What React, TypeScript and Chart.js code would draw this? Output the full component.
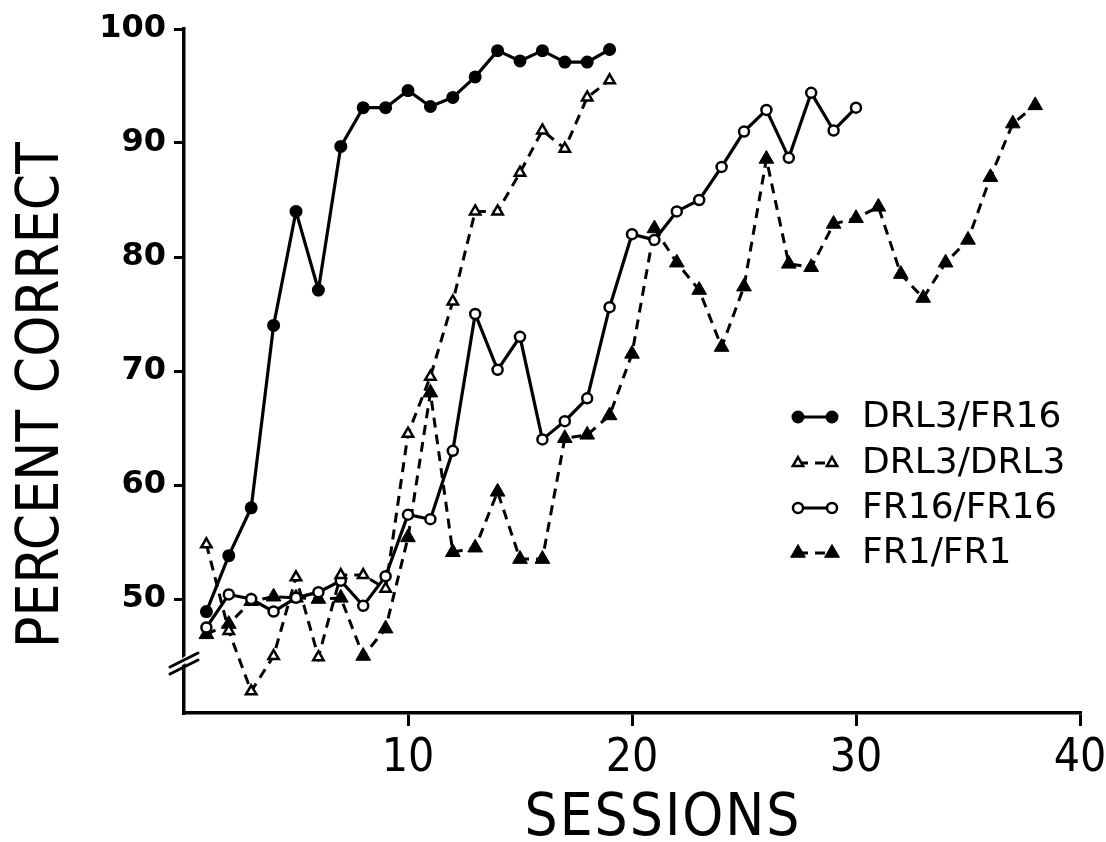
import { useEffect, useRef } from 'react';
import { Chart, registerables } from 'chart.js';

Chart.register(...registerables);

const sessions = [
  1, 2, 3, 4, 5, 6, 7, 8, 9, 10, 11, 12, 13, 14, 15, 16, 17, 18, 19, 20,
  21, 22, 23, 24, 25, 26, 27, 28, 29, 30, 31, 32, 33, 34, 35, 36, 37, 38,
];

const drl3Fr16 = [
  48.9, 53.8, 58, 74, 84, 77.1, 89.7, 93.1, 93.1, 94.6, 93.2, 94, 95.8, 98.1,
  97.2, 98.1, 97.1, 97.1, 98.2,
];

const drl3Drl3 = [
  54.8, 47.2, 41.9, 45, 51.9, 44.9, 52.1, 52.1, 50.9, 64.5, 69.5, 76.1, 84, 84,
  87.4, 91.1, 89.5, 94, 95.5,
];

const fr16Fr16 = [
  47.5, 50.4, 50, 48.9, 50.1, 50.6, 51.6, 49.4, 52, 57.4, 57, 63, 75, 70.1, 73,
  64, 65.6, 67.6, 75.6, 82, 81.5, 84, 85, 87.9, 91, 92.9, 88.7, 94.4, 91.1, 93.1,
];

const fr1Fr1 = [
  46.9, 47.8, 49.8, 50.2, 50.1, 50, 50.1, 45, 47.4, 55.4, 68.1, 54.1, 54.5,
  59.4, 53.5, 53.5, 64.1, 64.4, 66.1, 71.5, 82.5, 79.5, 77.1, 72.1, 77.4, 88.6,
  79.4, 79.1, 82.9, 83.4, 84.4, 78.5, 76.4, 79.5, 81.5, 87, 91.7, 93.3,
];

const seriesLabels = ['DRL3/FR16', 'DRL3/DRL3', 'FR16/FR16', 'FR1/FR1'];
const xTitle = 'SESSIONS';
const yTitle = 'PERCENT CORRECT';
const xMin = 0;
const xMax = 40;
const yMin = 40;
const yMax = 100;
const breakValue = 44.3;

function toPoints(values: number[]) {
  return values.map((v, i) => ({ x: sessions[i], y: v }));
}

function drawMarker(
  ctx: CanvasRenderingContext2D,
  style: string,
  x: number,
  y: number,
  r: number,
  fill: string,
  stroke: string,
  bw: number
) {
  ctx.save();
  ctx.beginPath();
  if (style === 'triangle') {
    let rad = 0;
    ctx.moveTo(x + Math.sin(rad) * r, y - Math.cos(rad) * r);
    rad += (2 * Math.PI) / 3;
    ctx.lineTo(x + Math.sin(rad) * r, y - Math.cos(rad) * r);
    rad += (2 * Math.PI) / 3;
    ctx.lineTo(x + Math.sin(rad) * r, y - Math.cos(rad) * r);
    ctx.closePath();
  } else {
    ctx.arc(x, y, r, 0, Math.PI * 2);
  }
  ctx.fillStyle = fill;
  ctx.fill();
  if (bw > 0) {
    ctx.lineWidth = bw;
    ctx.strokeStyle = stroke;
    ctx.setLineDash([]);
    ctx.stroke();
  }
  ctx.restore();
}

const decorPlugin = {
  id: 'decor',
  afterDraw(chart: any) {
    const ctx: CanvasRenderingContext2D = chart.ctx;
    const area = chart.chartArea;
    const yScale = chart.scales.y;

    // axis break marks
    const by = yScale.getPixelForValue(breakValue);
    const ax = area.left;
    ctx.save();
    ctx.fillStyle = '#fff';
    ctx.beginPath();
    ctx.moveTo(ax - 3, by + 2);
    ctx.lineTo(ax + 3, by - 2);
    ctx.lineTo(ax + 3, by - 9);
    ctx.lineTo(ax - 3, by - 5);
    ctx.closePath();
    ctx.fill();
    ctx.strokeStyle = '#000';
    ctx.lineWidth = 3;
    ctx.lineCap = 'round';
    ctx.beginPath();
    ctx.moveTo(ax - 14, by + 10);
    ctx.lineTo(ax + 14, by - 4);
    ctx.moveTo(ax - 14, by + 3);
    ctx.lineTo(ax + 14, by - 11);
    ctx.stroke();
    ctx.restore();

    // axis titles
    ctx.save();
    ctx.fillStyle = '#000';
    ctx.font = '58px "DejaVu Sans Condensed", "DejaVu Sans", sans-serif';
    ctx.textAlign = 'center';
    ctx.textBaseline = 'middle';
    (ctx as any).letterSpacing = '2px';
    ctx.fillText(xTitle, 663, 820);
    (ctx as any).letterSpacing = '0px';
    ctx.translate(43, 395);
    ctx.rotate(-Math.PI / 2);
    ctx.fillText(yTitle, 0, 0);
    ctx.restore();

    // legend
    const rows = [417, 463, 508, 553];
    chart.data.datasets.forEach((ds: any, i: number) => {
      const ry = rows[i];
      const x1 = 798;
      const x2 = 832;
      ctx.save();
      ctx.strokeStyle = '#000';
      ctx.lineWidth = ds.borderWidth;
      ctx.setLineDash(ds.borderDash || []);
      ctx.beginPath();
      ctx.moveTo(x1, ry);
      ctx.lineTo(x2, ry);
      ctx.stroke();
      ctx.restore();
      drawMarker(ctx, ds.pointStyle, x1, ry, ds.pointRadius, ds.pointBackgroundColor, ds.pointBorderColor, ds.pointBorderWidth);
      drawMarker(ctx, ds.pointStyle, x2, ry, ds.pointRadius, ds.pointBackgroundColor, ds.pointBorderColor, ds.pointBorderWidth);
      ctx.save();
      ctx.fillStyle = '#000';
      ctx.font = '36px "DejaVu Sans", sans-serif';
      ctx.textAlign = 'left';
      ctx.textBaseline = 'middle';
      ctx.fillText(ds.label, 862, ry + 1);
      ctx.restore();
    });
  },
};

export default function App() {
  const canvasRef = useRef<HTMLCanvasElement | null>(null);

  useEffect(() => {
    if (!canvasRef.current) return;
    const dash = [10, 7];
    const chart = new Chart(canvasRef.current, {
      type: 'line',
      data: {
        datasets: [
          {
            label: seriesLabels[0],
            data: toPoints(drl3Fr16),
            borderColor: '#000',
            borderWidth: 3.2,
            pointStyle: 'circle',
            pointRadius: 6.5,
            pointBackgroundColor: '#000',
            pointBorderColor: '#000',
            pointBorderWidth: 0,
            tension: 0,
          },
          {
            label: seriesLabels[1],
            data: toPoints(drl3Drl3),
            borderColor: '#000',
            borderWidth: 3,
            borderDash: dash,
            pointStyle: 'triangle',
            pointRadius: 6,
            pointBackgroundColor: '#fff',
            pointBorderColor: '#000',
            pointBorderWidth: 2.5,
            tension: 0,
          },
          {
            label: seriesLabels[2],
            data: toPoints(fr16Fr16),
            borderColor: '#000',
            borderWidth: 3.2,
            pointStyle: 'circle',
            pointRadius: 5,
            pointBackgroundColor: '#fff',
            pointBorderColor: '#000',
            pointBorderWidth: 2.5,
            tension: 0,
          },
          {
            label: seriesLabels[3],
            data: toPoints(fr1Fr1),
            borderColor: '#000',
            borderWidth: 3,
            borderDash: dash,
            pointStyle: 'triangle',
            pointRadius: 8.5,
            pointBackgroundColor: '#000',
            pointBorderColor: '#000',
            pointBorderWidth: 1,
            tension: 0,
          },
        ] as any,
      },
      options: {
        animation: false,
        responsive: true,
        maintainAspectRatio: false,
        layout: { padding: { left: 0, top: 29, right: 26, bottom: 0 } },
        plugins: {
          legend: { display: false },
          tooltip: { enabled: false },
        },
        scales: {
          x: {
            type: 'linear',
            min: xMin,
            max: xMax,
            afterFit(s: any) {
              s.height = 129;
              s.paddingLeft = 0;
              s.paddingRight = 0;
            },
            border: { display: true, color: '#000', width: 3.5 },
            grid: {
              drawOnChartArea: false,
              drawTicks: true,
              tickLength: 13,
              lineWidth: 3,
              tickColor: (c: any) => (c.tick && c.tick.value === xMin ? 'rgba(0,0,0,0)' : '#000'),
            },
            ticks: {
              stepSize: 10,
              padding: 5,
              color: '#000',
              font: { family: '"DejaVu Sans Condensed", "DejaVu Sans", sans-serif', size: 46 },
              callback: (v: any) => (v === xMin ? '' : String(v)),
            },
          },
          y: {
            type: 'linear',
            min: yMin,
            max: yMax,
            afterFit(s: any) {
              s.width = 184;
              s.paddingTop = 0;
              s.paddingBottom = 0;
            },
            border: { display: true, color: '#000', width: 3.5 },
            grid: {
              drawOnChartArea: false,
              drawTicks: true,
              tickLength: 10,
              lineWidth: 3,
              tickColor: (c: any) => (c.tick && c.tick.value === yMin ? 'rgba(0,0,0,0)' : '#000'),
            },
            ticks: {
              stepSize: 10,
              padding: 8,
              color: '#000',
              font: { family: '"DejaVu Sans", sans-serif', size: 32, weight: 'bold' },
              callback: (v: any) => (v === yMin ? '' : String(v)),
            },
          },
        },
      } as any,
      plugins: [decorPlugin],
    });
    return () => chart.destroy();
  }, []);

  return (
    <div
      style={{
        position: 'fixed',
        left: 0,
        top: 0,
        width: 1106,
        height: 842,
        background: '#fff',
      }}
    >
      <canvas ref={canvasRef} />
    </div>
  );
}
